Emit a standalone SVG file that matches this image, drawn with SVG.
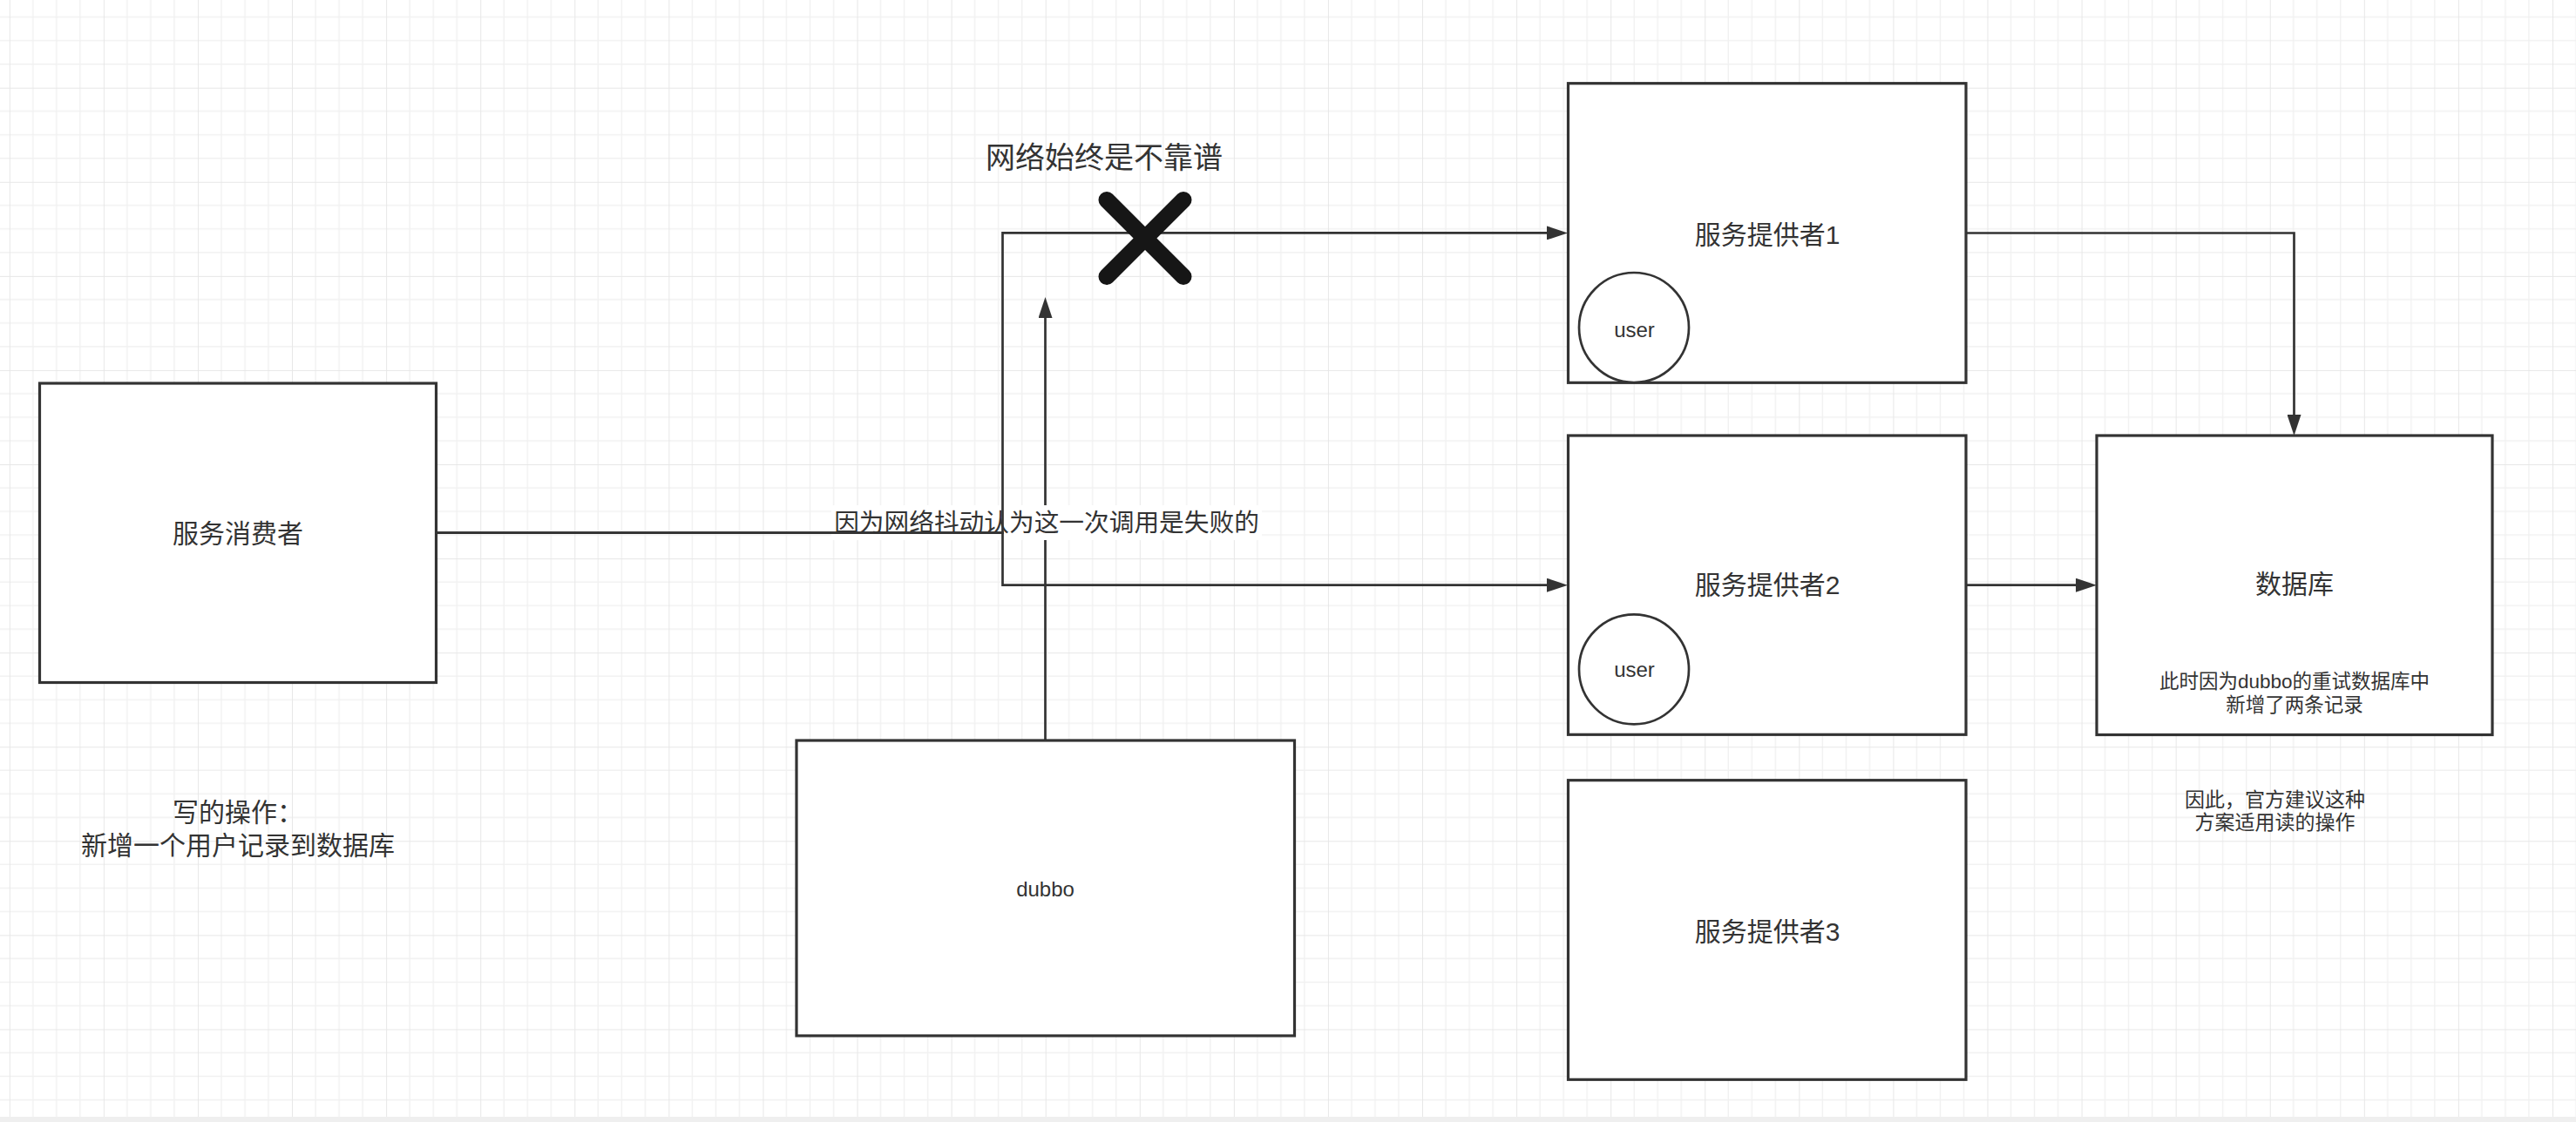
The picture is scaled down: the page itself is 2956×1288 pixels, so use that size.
<svg xmlns="http://www.w3.org/2000/svg" width="2956" height="1288" viewBox="0 0 2956 1288">
<defs>
<pattern id="grid" patternUnits="userSpaceOnUse" x="10.82" y="-7.38" width="108.08" height="108.08">
<path d="M27.02 0V108.08M54.04 0V108.08M81.06 0V108.08M0 27.02H108.08M0 54.04H108.08M0 81.06H108.08" stroke="#f1f1f1" stroke-width="1.4" fill="none"/>
<path d="M0 0V108.08M0 0H108.08" stroke="#e7e7e7" stroke-width="2" fill="none"/>
</pattern>
<marker id="arrow" markerUnits="userSpaceOnUse" viewBox="0 0 24 16" markerWidth="24" markerHeight="16" refX="18" refY="8" orient="auto">
<path d="M0,0 L24,8 L0,16 Z" fill="#333333"/>
</marker>
</defs>
<style>
.box{fill:#ffffff;stroke:#333333;stroke-width:3.2}
.circ{fill:#ffffff;stroke:#333333;stroke-width:2.7}
.edge{fill:none;stroke:#333333;stroke-width:2.7}
.t{font-family:"Liberation Sans","Noto Sans CJK SC",sans-serif;fill:#333333;text-anchor:middle;dominant-baseline:central}
.big{font-size:30px}
.sm{font-size:24px}
</style>
<rect x="0" y="0" width="2956" height="1288" fill="#ffffff"/>
<rect x="0" y="0" width="2956" height="1282" fill="url(#grid)"/>
<rect x="0" y="1282" width="2956" height="6" fill="#efefef"/>

<g id="consumer">
<rect class="box" x="45.5" y="440" width="455" height="343.5"/>
<text class="t big" x="273" y="612">服务消费者</text>
</g>
<g id="dubbo">
<rect class="box" x="914" y="850" width="571.5" height="339"/>
<text class="t sm" x="1199.5" y="1020">dubbo</text>
</g>
<g id="provider1">
<rect class="box" x="1799.5" y="95.7" width="456.5" height="343.6"/>
<text class="t big" x="2028" y="269">服务提供者1</text>
<circle class="circ" cx="1875" cy="376" r="63"/>
<text class="t sm" x="1875.5" y="378">user</text>
</g>
<g id="provider2">
<rect class="box" x="1799.5" y="500" width="456.5" height="343.3"/>
<text class="t big" x="2028" y="671">服务提供者2</text>
<circle class="circ" cx="1875" cy="768.3" r="63"/>
<text class="t sm" x="1875.5" y="768">user</text>
</g>
<g id="provider3">
<rect class="box" x="1799.5" y="895.7" width="456.5" height="343.6"/>
<text class="t big" x="2028" y="1069">服务提供者3</text>
</g>
<g id="database">
<rect class="box" x="2406" y="500" width="454" height="343.5"/>
<text class="t big" x="2633" y="670">数据库</text>
<text class="t" style="font-size:22.5px" x="2633" y="782">此时因为dubbo的重试数据库中</text>
<text class="t" style="font-size:22.5px" x="2633" y="809">新增了两条记录</text>
</g>
<g id="note-write">
<text class="t big" x="273" y="932">写的操作：</text>
<text class="t big" x="273" y="970">新增一个用户记录到数据库</text>
</g>
<g id="note-read">
<text class="t" style="font-size:23px" x="2610.5" y="918">因此，官方建议这种</text>
<text class="t" style="font-size:23px" x="2610.5" y="944">方案适用读的操作</text>
</g>
<g id="note-network">
<text class="t" style="font-size:34px" x="1267" y="181">网络始终是不靠谱</text>
</g>

<g id="connectors">
<path class="edge" d="M1199.5 850 V347" marker-end="url(#arrow)"/>
<rect x="954" y="580" width="494" height="40" fill="#ffffff"/>
<path class="edge" d="M500.5 611.7 H1150.5 V267.4 H1793" marker-end="url(#arrow)"/>
<path class="edge" d="M500.5 611.7 H1150.5 V671.7 H1793" marker-end="url(#arrow)"/>
<path class="edge" d="M2256 267.5 H2632.5 V494" marker-end="url(#arrow)"/>
<path class="edge" d="M2256 671.7 H2400" marker-end="url(#arrow)"/>
<text class="t" style="font-size:28.7px" x="1201" y="600">因为网络抖动认为这一次调用是失败的</text>
</g>
<g id="cross">
<path d="M1270 229.5 L1358 317.5 M1358 229.5 L1270 317.5" stroke="#161616" stroke-width="19" stroke-linecap="round" fill="none"/>
</g>
</svg>
